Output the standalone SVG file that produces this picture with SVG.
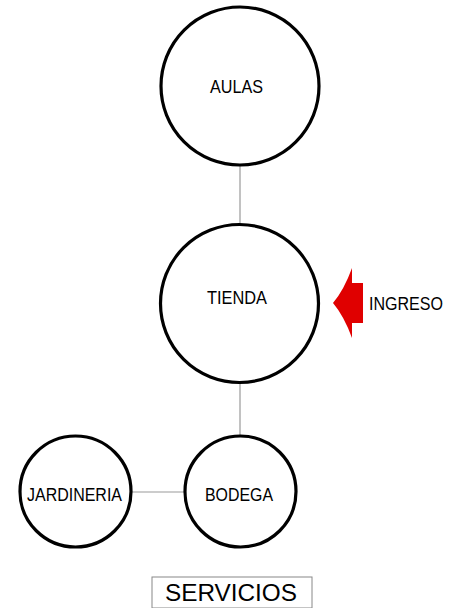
<svg xmlns="http://www.w3.org/2000/svg" width="451" height="608" viewBox="0 0 451 608">
<style>
.node{fill:#fff;stroke:#000;stroke-width:3.2}
.lbl{font-family:"Liberation Sans",Arial,sans-serif;font-size:18px;fill:#000;text-anchor:start}
.conn{stroke:#999;stroke-width:1.2;fill:none}
</style>
<rect width="451" height="608" fill="#fff"/>
<g id="connectors">
<line class="conn" x1="240" y1="165" x2="240" y2="224"/>
<line class="conn" x1="240" y1="383" x2="240" y2="436"/>
<line class="conn" x1="130" y1="492" x2="185" y2="492"/>
</g>
<g id="aulas">
<circle class="node" cx="240" cy="86" r="79"/>
<text class="lbl" x="210" y="93" textLength="53" lengthAdjust="spacingAndGlyphs">AULAS</text>
</g>
<g id="tienda">
<circle class="node" cx="239.5" cy="303.5" r="79"/>
<text class="lbl" x="207" y="304" textLength="60" lengthAdjust="spacingAndGlyphs">TIENDA</text>
</g>
<g id="bodega">
<circle class="node" cx="240.5" cy="491.5" r="55.5"/>
<text class="lbl" x="205" y="501" textLength="68" lengthAdjust="spacingAndGlyphs">BODEGA</text>
</g>
<g id="jardineria">
<circle class="node" cx="75.5" cy="491.5" r="55.5"/>
<text class="lbl" x="27" y="501" textLength="95" lengthAdjust="spacingAndGlyphs">JARDINERIA</text>
</g>
<g id="ingreso">
<path d="M333,303 Q344,290 352,268 L352,283 L363,283 L363,323 L352,323 L352,338 Q344,316 333,303 Z" fill="#e00000"/>
<text class="lbl" x="369" y="310" textLength="74" lengthAdjust="spacingAndGlyphs">INGRESO</text>
</g>
<g id="servicios">
<rect x="152" y="577" width="160" height="31" fill="#fff" stroke="#888" stroke-width="1"/>
<text x="165" y="601" font-family="'Liberation Sans',Arial,sans-serif" font-size="24" textLength="132" lengthAdjust="spacingAndGlyphs">SERVICIOS</text>
</g>
</svg>
